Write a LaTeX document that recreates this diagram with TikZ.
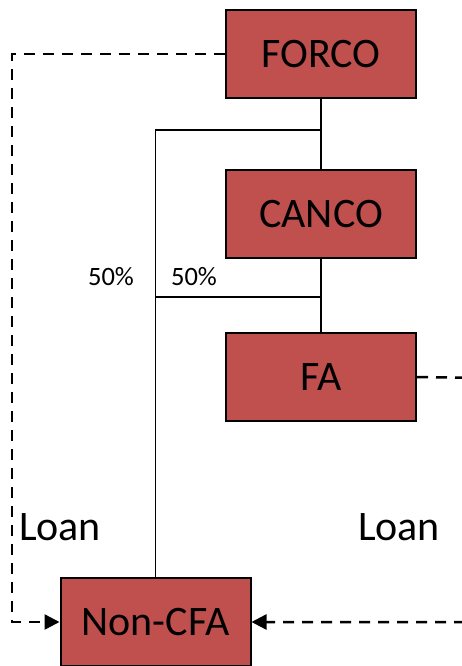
\documentclass[tikz,border=0pt]{standalone}
\usepackage{fontspec}
\setmainfont{Carlito}
\usetikzlibrary{arrows.meta}
\tikzset{
    entity/.style={draw=black, line width=2pt, fill=boxred, minimum width=190pt, minimum height=88pt, inner sep=0pt, font=\fontsize{42}{44}\selectfont},
    owner/.style={line width=1.5pt},
    loanline/.style={line width=2.5pt, dash pattern=on 11pt off 8pt},
    pct/.style={font=\fontsize{26.5}{28}\selectfont},
    loantext/.style={font=\fontsize{42}{44}\selectfont}
}
\definecolor{boxred}{HTML}{C0504D}
\begin{document}
\begin{tikzpicture}[x=1pt,y=-1pt]
    \useasboundingbox (0,0) rectangle (462,666);

    % entities
    \node[entity] (forco) at (321,54) {FORCO};
    \node[entity] (canco) at (321,214) {CANCO};
    \node[entity] (fa) at (321,377) {FA};
    \node[entity] (noncfa) at (155.5,622) {Non-CFA};

    % ownership lines
    \coordinate (j1) at (320,130);
    \coordinate (j2) at (320,297);
    \draw[owner] (forco.south) -- (canco.north);
    \draw[owner] (canco.south) -- (fa.north);
    \draw[owner] (j1) -| (noncfa.north);
    \draw[owner] (j2) -- (j2 -| noncfa.north);
    \node[pct] (p1) at (111,277) {50\%};
    \node[pct] (p2) at (194,277) {50\%};

    % loans
    \coordinate (l1) at (12,54);
    \coordinate (r1) at (490,378);
    \coordinate (r2) at (490,622);
    \draw[loanline,-{Triangle[length=15pt,width=15pt]}] (forco.west) -- (l1) |- (noncfa.west);
    \draw[loanline,-{Triangle[length=15pt,width=15pt]}] (fa.east) -- (r1) -- (r2) -- (noncfa.east);
    \node[loantext] (loan1) at (60,527) {Loan};
    \node[loantext] (loan2) at (399,527) {Loan};
\end{tikzpicture}
\end{document}
